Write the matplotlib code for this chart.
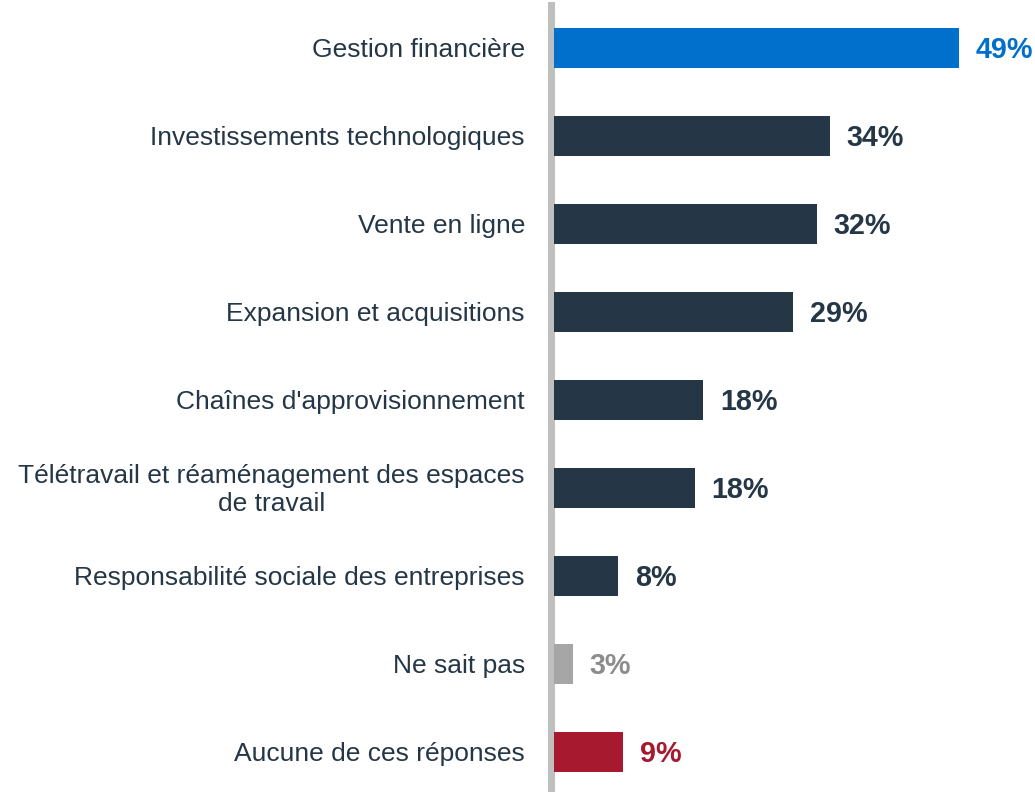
import matplotlib.pyplot as plt

categories = ["Gestion financière",
              "Investissements technologiques",
              "Vente en ligne",
              "Expansion et acquisitions",
              "Chaînes d'approvisionnement",
              "Télétravail et réaménagement des espaces\nde travail",
              "Responsabilité sociale des entreprises",
              "Ne sait pas",
              "Aucune de ces réponses"]
values = [49.1, 33.5, 31.9, 29.0, 18.1, 17.1, 7.8, 2.3, 8.4]
shown = [49, 34, 32, 29, 18, 18, 8, 3, 9]

navy = '#253746'
bar_colors = ['#0070CC'] + [navy] * 6 + ['#A6A6A6', '#A6192E']
text_colors = ['#0070CC'] + [navy] * 6 + ['#8C8C8C', '#A6192E']

plt.rcParams['font.family'] = ['Liberation Sans', 'DejaVu Sans']

fig = plt.figure(figsize=(10.35, 7.92), dpi=100)
ax = fig.add_axes([554/1035, 0, 1 - 554/1035, 1 - 5/792])

y = list(range(len(categories)))
ax.barh(y, values, height=0.455, color=bar_colors, zorder=3)

for i, (v, s) in enumerate(zip(values, shown)):
    ax.text(v + 2.0, i + 0.025, f"{s}%", va='center', ha='left', fontsize=20.7,
            fontweight='bold', color=text_colors[i])

# category labels as plain text so the two-line one can be centred
for i, c in enumerate(categories):
    ax.text(-29/481, i + 0.025, c, transform=ax.get_yaxis_transform(),
            ha='right', va='center', multialignment='center',
            fontsize=19, color=navy, linespacing=1.2)

ax.set_xlim(0, (1035 - 554) / 8.25)
ax.set_ylim(8.455, -0.49)
ax.set_yticks([])
ax.set_xticks([])

for side in ['top', 'right', 'bottom']:
    ax.spines[side].set_visible(False)
ax.spines['left'].set_color('#BFBFBF')
ax.spines['left'].set_linewidth(5.0)
ax.spines['left'].set_position(('outward', 2.5))

plt.savefig("out.png", dpi=100)
